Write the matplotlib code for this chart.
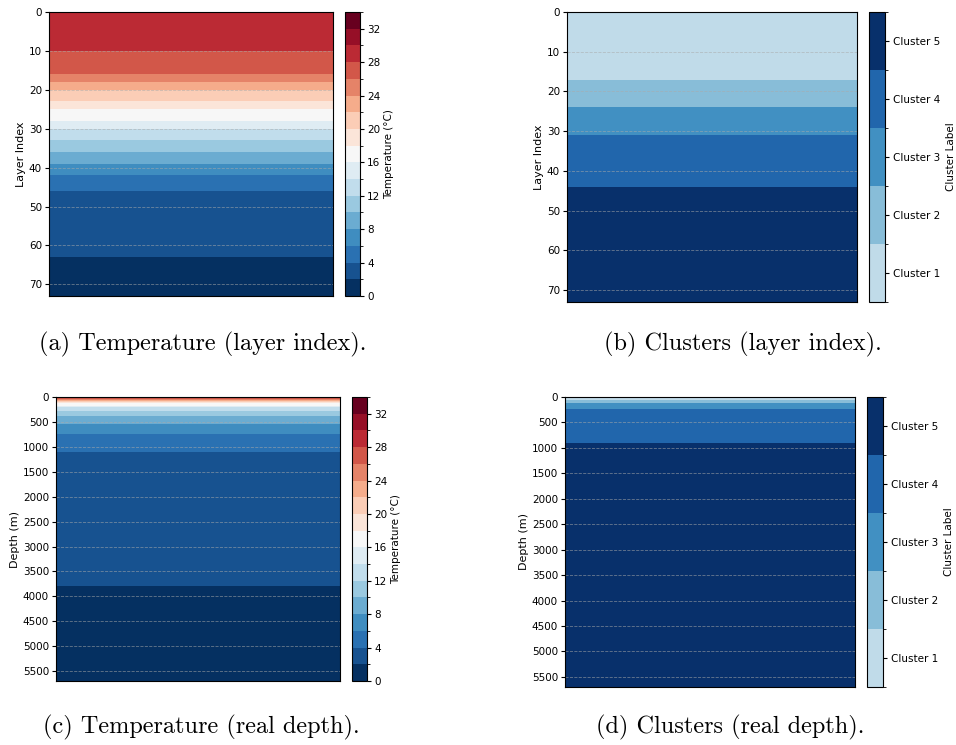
import numpy as np
import matplotlib
matplotlib.use("Agg")
import matplotlib.pyplot as plt
from matplotlib.colors import BoundaryNorm, ListedColormap

# temperature of each model layer (deg C), surface first
temperature = [29.5, 29.5, 29.5, 29.4, 29.4, 29.3, 29.2, 29.1, 28.9, 28.5,
               27.9, 27.6, 27.3, 27.0, 26.6, 26.2,
               25.6, 24.8,
               23.8, 22.6,
               21.7, 21.0, 20.3,
               19.5, 18.5,
               17.6, 16.9, 16.2,
               15.5, 14.6,
               13.8, 13.0, 12.3,
               11.7, 11.0, 10.3,
               9.7, 9.0, 8.4,
               7.8, 7.0, 6.3,
               5.7, 5.1, 4.6, 4.2,
               3.9, 3.7, 3.5, 3.3, 3.1, 2.9, 2.8, 2.7, 2.6, 2.5, 2.4, 2.3,
               2.25, 2.2, 2.15, 2.1, 2.05,
               1.9, 1.8, 1.7, 1.6, 1.5, 1.4, 1.3, 1.2, 1.2, 1.1]

# depth of each layer (m)
depth = [1.56, 2.67, 3.86, 5.14, 6.54, 8.09, 9.82, 11.77, 13.99, 16.53,
         19.43, 22.76, 26.56, 30.87, 35.74, 41.18, 47.21, 53.85, 61.11, 69.02,
         77.61, 86.93, 97.04, 108.03, 120.0, 133.08, 147.41, 163.16, 180.55, 199.79,
         221.14, 244.89, 271.36, 300.89, 333.86, 370.69, 411.79, 457.63, 508.64, 565.29,
         628.03, 697.26, 773.37, 856.68, 947.45, 1045.85, 1151.99, 1265.86, 1387.38, 1516.36,
         1652.57, 1795.67, 1945.30, 2101.03, 2262.42, 2429.03, 2600.38, 2776.04, 2955.57, 3138.57,
         3324.64, 3513.45, 3704.66, 3897.98, 4093.16, 4289.95, 4488.16, 4687.58, 4888.07, 5089.48,
         5291.68, 5494.58, 5698.06]

# cluster label of each layer, given as number of consecutive layers per cluster
cluster_ids = [1, 2, 3, 4, 5]
cluster_layers = [17, 7, 7, 13, 29]
cluster_names = ["Cluster 1", "Cluster 2", "Cluster 3", "Cluster 4", "Cluster 5"]
cluster_colors = ["#c0dbe9", "#88bdd8", "#4190c2", "#2166ac", "#08306b"]

temp_levels = np.arange(0, 36, 2)
captions = ["(a) Temperature (layer index).", "(b) Clusters (layer index).",
            "(c) Temperature (real depth).", "(d) Clusters (real depth)."]

W, H = 956, 745
fig = plt.figure(figsize=(W / 100, H / 100), dpi=100)


def box(l, t, r, b):
    return [l / W, 1 - b / H, (r - l) / W, (b - t) / H]


T = np.array(temperature)
clusters = np.repeat(cluster_ids, cluster_layers)
n = len(T)

tcmap = plt.get_cmap("RdBu_r", len(temp_levels) - 1)
tnorm = BoundaryNorm(temp_levels, tcmap.N)
ccmap = ListedColormap(cluster_colors)
cnorm = BoundaryNorm(np.arange(0.5, 6, 1), ccmap.N)

fs = 7.5


def style(ax, ylabel):
    ax.set_xticks([])
    ax.set_ylabel(ylabel, fontsize=fs + 0.5, labelpad=2)
    ax.tick_params(axis="y", labelsize=fs, length=3, pad=2)
    ax.grid(axis="y", linestyle="--", color="#aaaaaa", alpha=0.6, linewidth=0.6)
    for sp in ax.spines.values():
        sp.set_zorder(3)


def temp_bar(mesh, cax):
    cb = fig.colorbar(mesh, cax=cax)
    cb.set_ticks(np.arange(0, 33, 4))
    cb.ax.set_yticks(temp_levels, minor=True)
    cb.ax.tick_params(labelsize=fs, length=3, pad=2)
    cb.ax.tick_params(which="minor", length=2)
    cb.set_label("Temperature (°C)", fontsize=fs, labelpad=3)
    cb.outline.set_linewidth(0.8)


def cluster_bar(mesh, cax):
    cb = fig.colorbar(mesh, cax=cax)
    cb.set_ticks(cluster_ids)
    cb.set_ticklabels(cluster_names)
    cb.ax.set_yticks(np.arange(0.5, 6, 1), minor=True)
    cb.ax.tick_params(labelsize=fs, length=3, pad=3)
    cb.ax.tick_params(which="minor", length=2)
    cb.set_label("Cluster Label", fontsize=fs, labelpad=4)
    cb.outline.set_linewidth(0.8)


# (a) temperature by layer index
ax = fig.add_axes(box(49, 12, 333, 296))
m = ax.pcolormesh([0, 1], np.arange(n + 1), T[:, None], cmap=tcmap, norm=tnorm)
ax.set_ylim(n, 0)
ax.set_yticks(np.arange(0, 71, 10))
style(ax, "Layer Index")
temp_bar(m, fig.add_axes(box(345, 12, 360, 296)))

# (b) clusters by layer index
ax = fig.add_axes(box(567, 12, 857, 302))
m = ax.pcolormesh([0, 1], np.arange(n + 1), clusters[:, None], cmap=ccmap, norm=cnorm)
ax.set_ylim(n, 0)
ax.set_yticks(np.arange(0, 71, 10))
style(ax, "Layer Index")
cluster_bar(m, fig.add_axes(box(869, 12, 885, 302)))

# (c) temperature by depth
ax = fig.add_axes(box(56, 397, 340, 681))
m = ax.pcolormesh([0, 1], depth, np.repeat(T[:, None], 2, axis=1),
                  cmap=tcmap, norm=tnorm, shading="nearest")
ax.set_ylim(depth[-1], 0)
ax.set_xlim(-0.5, 1.5)
ax.set_yticks(np.arange(0, 5501, 500))
style(ax, "Depth (m)")
temp_bar(m, fig.add_axes(box(352, 397, 367, 681)))

# (d) clusters by depth
ax = fig.add_axes(box(565, 397, 855, 687))
m = ax.pcolormesh([0, 1], depth, np.repeat(clusters[:, None], 2, axis=1),
                  cmap=ccmap, norm=cnorm, shading="nearest")
ax.set_ylim(depth[-1], 0)
ax.set_xlim(-0.5, 1.5)
ax.set_yticks(np.arange(0, 5501, 500))
style(ax, "Depth (m)")
cluster_bar(m, fig.add_axes(box(867, 397, 883, 687)))

for (x, y), txt in zip([(203, 344), (743, 344), (201, 727), (730, 727)], captions):
    fig.text(x / W, 1 - y / H, txt, family="cmr10", fontsize=17.5,
             ha="center", va="center")

fig.savefig("out.png", dpi=100)
